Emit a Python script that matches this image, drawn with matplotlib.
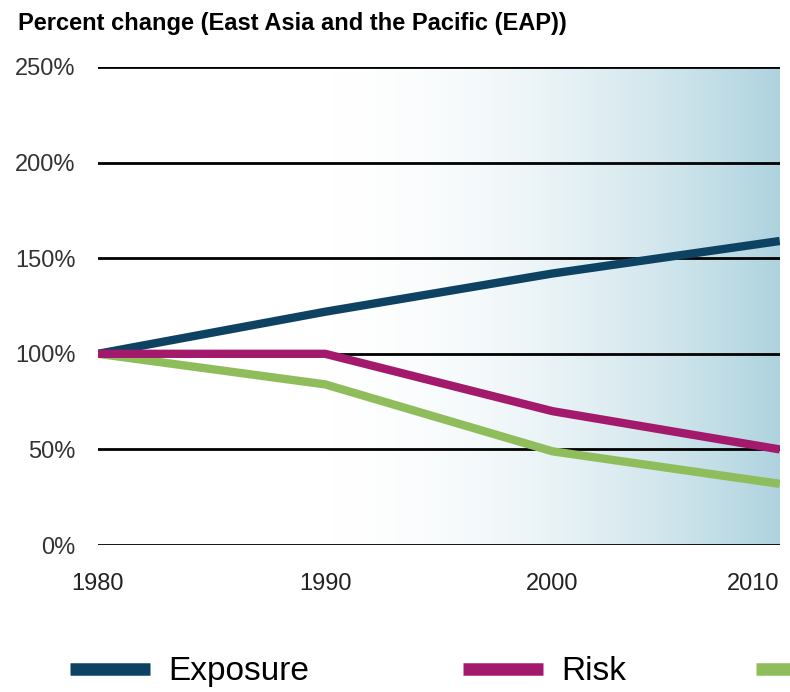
import matplotlib.pyplot as plt
import numpy as np
from matplotlib.colors import LinearSegmentedColormap

years = [1980, 1990, 2000, 2010]
exposure = [100, 122, 142, 159]
risk = [100, 100, 70, 50]
third = [100, 84, 49, 32]   # green series, label cut off in the original

yticks = [0, 50, 100, 150, 200, 250]
ytick_labels = ['0%', '50%', '100%', '150%', '200%', '250%']

narrow = ['Liberation Sans Narrow', 'Liberation Sans', 'DejaVu Sans']

fig = plt.figure(figsize=(7.9, 6.92), dpi=100)
ax = fig.add_axes([0.124, 0.2124, 0.863, 0.6908])

# background gradient: white on the left, light blue at the right edge
xs = np.linspace(0, 1, 500)
t = np.clip((xs - 0.3) / 0.7, 0, 1) ** 2
cmap = LinearSegmentedColormap.from_list('bg', ['#ffffff', '#aed3df'])
ax.imshow(t[np.newaxis, :], cmap=cmap, vmin=0, vmax=1, aspect='auto',
          extent=[1980, 2010, 0, 250], zorder=0)

for y in yticks:
    ax.axhline(y, color='black', lw=2, zorder=1)

ax.plot(years, exposure, color='#0d4262', lw=6, zorder=3, solid_capstyle='butt')
ax.plot(years, risk, color='#a3196b', lw=6, zorder=3, solid_capstyle='butt')
ax.plot(years, third, color='#8fbd5b', lw=6, zorder=2, solid_capstyle='butt')

ax.set_xlim(1980, 2010)
ax.set_ylim(0, 250)
for s in ax.spines.values():
    s.set_visible(False)

ax.set_yticks(yticks)
ax.set_yticklabels(ytick_labels, family=narrow, fontsize=17, color='#333333')
ax.set_xticks(years)
xl = ax.set_xticklabels([str(y) for y in years], family=narrow, fontsize=17, color='#222222')
xl[-1].set_ha('right')
ax.tick_params(axis='y', length=0, pad=16)
ax.tick_params(axis='x', length=0, pad=20)

fig.text(0.023, 0.966, 'Percent change (East Asia and the Pacific (EAP))',
         fontsize=17, fontweight='bold', family=['Liberation Sans', 'DejaVu Sans'],
         va='center', ha='left')

# legend entries placed one by one (the last one is cut off by the image edge)
legend_colors = ['#0d4262', '#a3196b', '#8fbd5b']
legend_labels = ['Exposure', 'Risk', '']
legend_x = [0.0886, 0.586, 0.957]
for c, lab, x in zip(legend_colors, legend_labels, legend_x):
    h = plt.Line2D([], [], color=c, lw=9, solid_capstyle='butt')
    fig.legend([h], [lab], loc='center left', bbox_to_anchor=(x, 0.029),
               frameon=False, prop={'family': narrow, 'size': 24},
               handlelength=2.4, handletextpad=0.55,
               borderaxespad=0, borderpad=0)

fig.savefig('out.png', dpi=100)
